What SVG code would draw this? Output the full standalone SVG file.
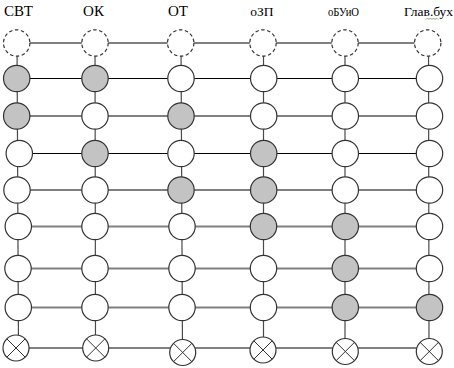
<svg xmlns="http://www.w3.org/2000/svg" width="454" height="368" viewBox="0 0 454 368">
<style>
text{font-family:"Liberation Serif","Times New Roman",serif;fill:#000}
.lab{font-size:15px}
.lab2{font-size:13.5px}
.hb{stroke:#000;stroke-width:1;fill:none}
.hg{stroke:#808080;stroke-width:1.8;fill:none}
.v{stroke:#4a4a4a;stroke-width:1.2;fill:none}
.n circle{stroke:#333;stroke-width:1.2}
.w{fill:#fff}
.g{fill:#c3c3c3}
.d{fill:#fff;stroke-dasharray:3.5 2.5}
.x line{stroke:#333;stroke-width:1}
</style>
<rect width="454" height="368" fill="#fff"/>
<g id="labels">
<text class="lab" x="18.5" y="16" text-anchor="middle">СВТ</text>
<text class="lab" x="93.5" y="16" text-anchor="middle">ОК</text>
<text class="lab" x="178" y="16" text-anchor="middle">ОТ</text>
<text class="lab2" x="262" y="16" text-anchor="middle">оЗП</text>
<text class="lab2" x="328" y="16" textLength="31" lengthAdjust="spacingAndGlyphs">оБУиО</text>
<text class="lab2" x="404" y="16">Глав.бух</text>
<path d="M426 19.5 l1.5 -1.5 l1.5 1.5 l1.5 -1.5 l1.5 1.5 l1.5 -1.5 l1.5 1.5 l1.5 -1.5 l1.5 1.5" stroke="#5a9a3a" stroke-width="0.8" fill="none"/>
</g>
<g id="connectors">
<line class="v" x1="17" y1="43" x2="18.5" y2="348"/>
<line class="v" x1="95" y1="43" x2="95.5" y2="348"/>
<line class="v" x1="181" y1="43" x2="182.5" y2="352"/>
<line class="v" x1="263.5" y1="43" x2="263.5" y2="350"/>
<line class="v" x1="345" y1="43" x2="345" y2="351"/>
<line class="v" x1="428.5" y1="43" x2="429" y2="351" stroke="#222"/>
<line class="hg" x1="17" y1="43" x2="428" y2="43"/>
<line class="hb" x1="17" y1="78.5" x2="429" y2="78.5"/>
<line class="hg" x1="17" y1="116" x2="429" y2="116"/>
<line class="hb" x1="19" y1="153.5" x2="429" y2="153.5"/>
<line class="hb" x1="17" y1="190" x2="429" y2="190"/>
<line class="hg" x1="18" y1="226.5" x2="429" y2="226.5"/>
<line class="hg" x1="18" y1="268.5" x2="429" y2="268.5"/>
<line class="hg" x1="18" y1="307.5" x2="429" y2="307.5"/>
<line class="hg" x1="16" y1="348" x2="429" y2="348"/>
</g>
<g id="col-svt" class="n">
<circle class="d" cx="16.7" cy="43" r="13.2"/>
<circle class="g" cx="16.7" cy="78.5" r="13.2"/>
<circle class="g" cx="16.7" cy="116" r="13.2"/>
<circle class="w" cx="19.3" cy="153.5" r="13.2"/>
<circle class="w" cx="17" cy="190" r="13.2"/>
<circle class="w" cx="18.3" cy="226.5" r="13.2"/>
<circle class="w" cx="18" cy="268.5" r="13.2"/>
<circle class="w" cx="18.3" cy="307.5" r="13.2"/>
<g class="x"><circle class="w" cx="16" cy="348" r="13"/><line x1="6.8" y1="338.8" x2="25.2" y2="357.2"/><line x1="25.2" y1="338.8" x2="6.8" y2="357.2"/></g>
</g>
<g id="col-ok" class="n">
<circle class="d" cx="95" cy="43" r="13.2"/>
<circle class="g" cx="95" cy="78.5" r="13.2"/>
<circle class="w" cx="95" cy="116" r="13.2"/>
<circle class="g" cx="95" cy="153.5" r="13.2"/>
<circle class="w" cx="95" cy="190" r="13.2"/>
<circle class="w" cx="95" cy="226.5" r="13.2"/>
<circle class="w" cx="95" cy="268.5" r="13.2"/>
<circle class="w" cx="95" cy="307.5" r="13.2"/>
<g class="x"><circle class="w" cx="95.7" cy="348" r="13"/><line x1="86.5" y1="338.8" x2="104.9" y2="357.2"/><line x1="104.9" y1="338.8" x2="86.5" y2="357.2"/></g>
</g>
<g id="col-ot" class="n">
<circle class="d" cx="180.7" cy="43" r="13.2"/>
<circle class="w" cx="181" cy="78.5" r="13.2"/>
<circle class="g" cx="181" cy="116" r="13.2"/>
<circle class="w" cx="181" cy="153.5" r="13.2"/>
<circle class="g" cx="181" cy="190" r="13.2"/>
<circle class="w" cx="182" cy="226.5" r="13.2"/>
<circle class="w" cx="182" cy="268.5" r="13.2"/>
<circle class="w" cx="182" cy="307.5" r="13.2"/>
<g class="x"><circle class="w" cx="182.7" cy="352.5" r="13"/><line x1="173.5" y1="343.3" x2="191.9" y2="361.7"/><line x1="191.9" y1="343.3" x2="173.5" y2="361.7"/></g>
</g>
<g id="col-ozp" class="n">
<circle class="d" cx="263" cy="43" r="13.2"/>
<circle class="w" cx="263.7" cy="78.5" r="13.2"/>
<circle class="w" cx="263.7" cy="116" r="13.2"/>
<circle class="g" cx="263.7" cy="153.5" r="13.2"/>
<circle class="g" cx="263.7" cy="190" r="13.2"/>
<circle class="g" cx="263.5" cy="226.5" r="13.2"/>
<circle class="w" cx="263.5" cy="268.5" r="13.2"/>
<circle class="w" cx="263.5" cy="307.5" r="13.2"/>
<g class="x"><circle class="w" cx="263" cy="350" r="13"/><line x1="253.8" y1="340.8" x2="272.2" y2="359.2"/><line x1="272.2" y1="340.8" x2="253.8" y2="359.2"/></g>
</g>
<g id="col-obuio" class="n">
<circle class="d" cx="345" cy="43" r="13.2"/>
<circle class="w" cx="345.3" cy="78.5" r="13.2"/>
<circle class="w" cx="345.3" cy="116" r="13.2"/>
<circle class="w" cx="345.3" cy="153.5" r="13.2"/>
<circle class="w" cx="345.3" cy="190" r="13.2"/>
<circle class="g" cx="345.3" cy="226.5" r="13.2"/>
<circle class="g" cx="345.3" cy="268.5" r="13.2"/>
<circle class="g" cx="345.3" cy="307.5" r="13.2"/>
<g class="x"><circle class="w" cx="345.3" cy="351.5" r="13"/><line x1="336.1" y1="342.3" x2="354.5" y2="360.7"/><line x1="354.5" y1="342.3" x2="336.1" y2="360.7"/></g>
</g>
<g id="col-glavbuh" class="n">
<circle class="d" cx="427.7" cy="43" r="13.2"/>
<circle class="w" cx="429.5" cy="78.5" r="13.2"/>
<circle class="w" cx="429.5" cy="116" r="13.2"/>
<circle class="w" cx="429.5" cy="153.5" r="13.2"/>
<circle class="w" cx="429.5" cy="190" r="13.2"/>
<circle class="w" cx="429.5" cy="226.5" r="13.2"/>
<circle class="w" cx="429.5" cy="268.5" r="13.2"/>
<circle class="g" cx="429.5" cy="307.5" r="13.2"/>
<g class="x"><circle class="w" cx="429.3" cy="351.5" r="13"/><line x1="420.1" y1="342.3" x2="438.5" y2="360.7"/><line x1="438.5" y1="342.3" x2="420.1" y2="360.7"/></g>
</g>
</svg>
